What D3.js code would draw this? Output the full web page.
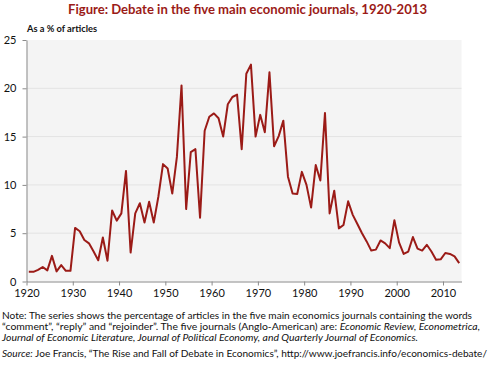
<!DOCTYPE html>
<html>
<head>
<meta charset="utf-8">
<script src="https://cdn.jsdelivr.net/npm/d3@7"></script>
<style>
  body { margin: 0; background: #fff; }
  svg { display: block; font-family: Lato, "Open Sans", sans-serif; }
</style>
</head>
<body>
<div id="chart"></div>
<script>
// years (categories) and % of articles that are debate
const years = [
  1920, 1921, 1922, 1923, 1924, 1925, 1926, 1927, 1928, 1929,
  1930, 1931, 1932, 1933, 1934, 1935, 1936, 1937, 1938, 1939,
  1940, 1941, 1942, 1943, 1944, 1945, 1946, 1947, 1948, 1949,
  1950, 1951, 1952, 1953, 1954, 1955, 1956, 1957, 1958, 1959,
  1960, 1961, 1962, 1963, 1964, 1965, 1966, 1967, 1968, 1969,
  1970, 1971, 1972, 1973, 1974, 1975, 1976, 1977, 1978, 1979,
  1980, 1981, 1982, 1983, 1984, 1985, 1986, 1987, 1988, 1989,
  1990, 1991, 1992, 1993, 1994, 1995, 1996, 1997, 1998, 1999,
  2000, 2001, 2002, 2003, 2004, 2005, 2006, 2007, 2008, 2009,
  2010, 2011, 2012, 2013
];
const debateShare = [
  1.0, 1.0, 1.2, 1.5, 1.15, 2.65, 1.05, 1.7, 1.1, 1.1,
  5.55, 5.2, 4.3, 3.95, 3.1, 2.2, 4.55, 2.15, 7.35, 6.3,
  7.05, 11.45, 3.0, 7.05, 8.1, 6.1, 8.25, 6.1, 8.8, 12.15,
  11.7, 9.1, 12.9, 20.3, 7.5, 13.4, 13.7, 6.6, 15.6, 17.05,
  17.4, 16.9, 15.0, 18.35, 19.1, 19.35, 13.7, 21.5, 22.45, 15.0,
  17.25, 15.45, 21.65, 14.0, 15.05, 16.65, 10.85, 9.1, 9.05, 11.35,
  10.0, 7.65, 12.05, 10.45, 17.45, 7.05, 9.4, 5.5, 5.85, 8.3,
  6.9, 5.95, 5.0, 4.15, 3.2, 3.3, 4.25, 3.95, 3.45, 6.35,
  4.05, 2.85, 3.1, 4.6, 3.4, 3.2, 3.8, 3.1, 2.25, 2.3,
  2.95, 2.85, 2.6, 1.9
];
const yTicks = [0, 5, 10, 15, 20, 25];
const xTicks = [1920, 1930, 1940, 1950, 1960, 1970, 1980, 1990, 2000, 2010];

const titleText = "Figure: Debate in the five main economic journals, 1920-2013";
const yLabel = "As a % of articles";

const data = years.map((yr, i) => ({ year: yr, value: debateShare[i] }));

const width = 500;
const height = 371;
const plotLeft = 26.5, plotRight = 461.5, plotTop = 40, plotBottom = 281.5;
const red = "#9b1b17";

const svg = d3.select("#chart").append("svg")
    .attr("width", width)
    .attr("height", height);

// scales: category axis, each year sits in the middle of its slot
const x = d3.scaleLinear([1920, 2014], [plotLeft, plotRight]);
const y = d3.scaleLinear([0, 25], [plotBottom, plotTop]);

// plot background
svg.append("rect")
    .attr("x", plotLeft)
    .attr("y", plotTop)
    .attr("width", plotRight - plotLeft)
    .attr("height", plotBottom - plotTop)
    .attr("fill", "#f4f4f4");

// gridlines
svg.append("g")
    .selectAll("line")
    .data(yTicks.filter(d => d > 0 && d < 25))
    .join("line")
    .attr("x1", plotLeft)
    .attr("x2", plotRight)
    .attr("y1", d => y(d))
    .attr("y2", d => y(d))
    .attr("stroke", "#e3e3e3")
    .attr("stroke-width", 1);

// y axis
svg.append("g")
    .attr("transform", `translate(${plotLeft},0)`)
    .call(d3.axisLeft(y).tickValues(yTicks).tickSize(4).tickSizeOuter(0).tickPadding(6))
    .call(g => g.selectAll("path, line").attr("stroke", "#8a8a8a"))
    .call(g => g.selectAll("text").attr("font-size", 11).attr("fill", "#111")
        .attr("font-family", "Lato, sans-serif"));

// x axis
svg.append("g")
    .attr("transform", `translate(0,${plotBottom})`)
    .call(d3.axisBottom(x).tickValues(xTicks).tickFormat(d3.format("d"))
        .tickSize(4).tickSizeOuter(0).tickPadding(4))
    .call(g => g.selectAll("path, line").attr("stroke", "#8a8a8a"))
    .call(g => g.selectAll("text").attr("font-size", 11).attr("fill", "#111")
        .attr("font-family", "Lato, sans-serif"));

// the series
const line = d3.line()
    .x(d => x(d.year + 0.5))
    .y(d => y(d.value));

svg.append("path")
    .attr("fill", "none")
    .attr("stroke", red)
    .attr("stroke-width", 2)
    .attr("stroke-linejoin", "round")
    .attr("d", line(data));

// title
svg.append("text")
    .attr("x", 68)
    .attr("y", 13.5)
    .attr("font-size", 13.5)
    .attr("font-weight", "bold")
    .attr("fill", red)
    .attr("textLength", 359)
    .attr("lengthAdjust", "spacingAndGlyphs")
    .text(titleText);

// axis label
svg.append("text")
    .attr("x", 27)
    .attr("y", 32)
    .attr("font-size", 10)
    .attr("font-weight", "bold")
    .attr("fill", "#111")
    .attr("textLength", 70)
    .attr("lengthAdjust", "spacingAndGlyphs")
    .text(yLabel);

// notes
const notes = [
  { y: 318.5, w: 470, parts: [
    ["Note: The series shows the percentage of articles in the five main economics journals containing the words", false]] },
  { y: 329.5, w: 478, parts: [
    ["\u201Ccomment\u201D, \u201Creply\u201D and \u201Crejoinder\u201D. The five journals (Anglo-American) are: ", false],
    ["Economic Review, Econometrica,", true]] },
  { y: 340.5, w: 416, parts: [
    ["Journal of Economic Literature, Journal of Political Economy, and Quarterly Journal of Economics.", true]] },
  { y: 357, w: 485, parts: [
    ["Source:", true],
    [" Joe Francis, \u201CThe Rise and Fall of Debate in Economics\u201D, http://www.joefrancis.info/economics-debate/", false]] }
];

notes.forEach(n => {
  const t = svg.append("text")
      .attr("x", 2)
      .attr("y", n.y)
      .attr("font-size", 10)
      .attr("fill", "#111")
      .attr("textLength", n.w)
      .attr("lengthAdjust", "spacingAndGlyphs");
  n.parts.forEach(p => {
    t.append("tspan")
      .attr("font-style", p[1] ? "italic" : "normal")
      .text(p[0]);
  });
});
</script>
</body>
</html>
